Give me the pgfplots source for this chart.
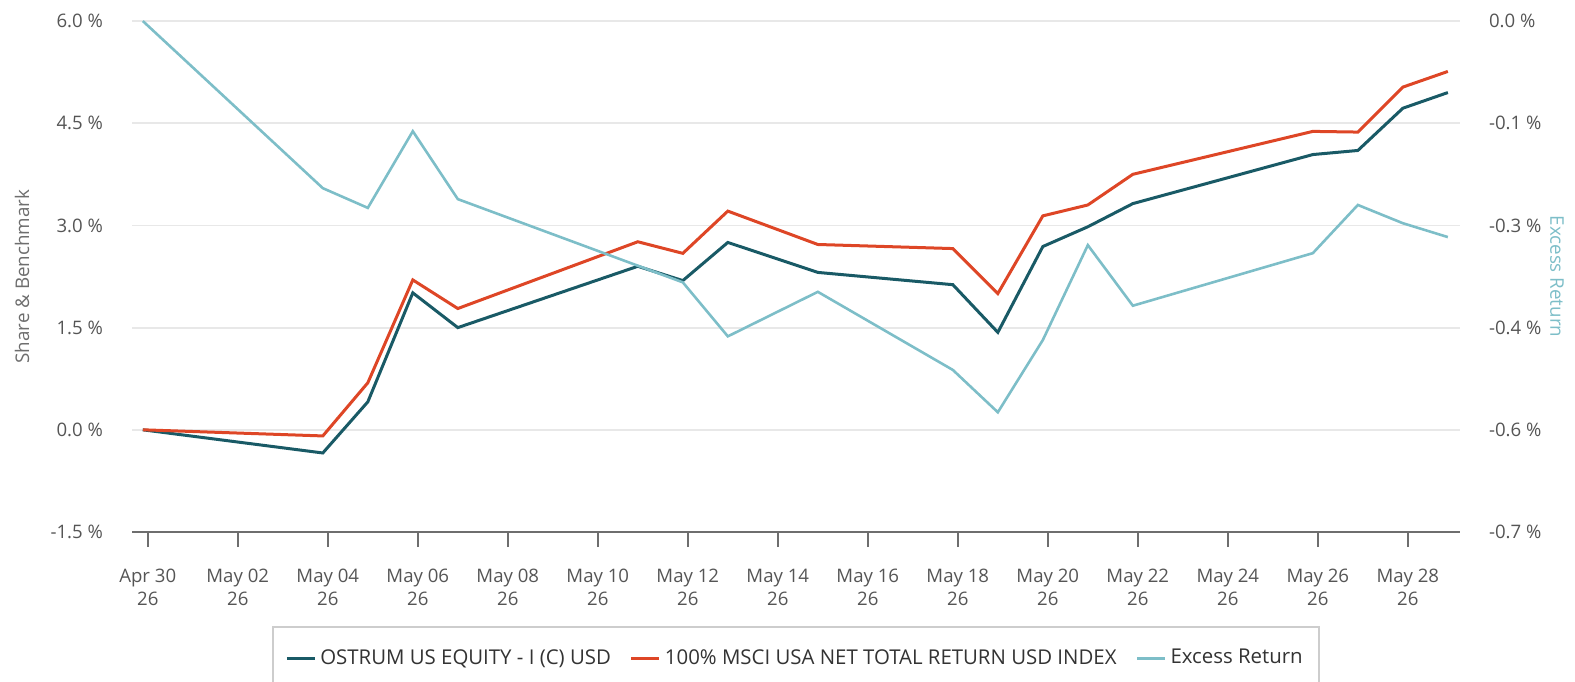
\documentclass[border=0pt]{standalone}
\usepackage{pgfplots}
\pgfplotsset{compat=1.18}
\usepackage{fontspec}
\setmainfont{Open Sans}
\definecolor{ostrum}{RGB}{25,90,102}
\definecolor{msci}{RGB}{222,70,38}
\definecolor{excess}{RGB}{125,190,200}
\definecolor{tickgray}{RGB}{85,85,85}
\definecolor{gridgray}{RGB}{232,232,232}
\definecolor{axisgray}{RGB}{110,110,110}
\begin{document}
\begin{tikzpicture}
\useasboundingbox (0,0) rectangle (787.5pt,340.5pt);
\begin{axis}[
  at={(66pt,74.5pt)}, anchor=south west,
  scale only axis, width=664pt, height=255.5pt,
  xmin=-0.24, xmax=29.27, ymin=-1.5, ymax=6.0,
  axis x line*=bottom, axis y line*=left,
  y axis line style={draw=none},
  x axis line style={draw=axisgray, line width=1pt},
  xtick={0.11,2.11,4.11,6.11,8.11,10.11,12.11,14.11,16.11,18.11,20.11,22.11,24.11,26.11,28.11},
  xticklabels={{Apr 30\\26},{May 02\\26},{May 04\\26},{May 06\\26},{May 08\\26},{May 10\\26},{May 12\\26},{May 14\\26},{May 16\\26},{May 18\\26},{May 20\\26},{May 22\\26},{May 24\\26},{May 26\\26},{May 28\\26}},
  xticklabel style={align=center, font=\fontsize{9.3}{11.5}\selectfont, text=tickgray, yshift=-7.5pt},
  x tick style={draw=axisgray, line width=0.9pt},
  tick align=outside, major tick length=7.5pt,
  ytick={-1.5,0,1.5,3,4.5,6},
  yticklabels={{-1.5 \%},{0.0 \%},{1.5 \%},{3.0 \%},{4.5 \%},{6.0 \%}},
  yticklabel style={font=\fontsize{9.3}{11}\selectfont, text=tickgray, xshift=-3.5pt},
  y tick style={draw=none},
  ymajorgrids, grid style={draw=gridgray, line width=0.9pt},
  ylabel={Share \& Benchmark},
  ylabel style={at={(axis description cs:-0.0828,0.5)}, anchor=center, font=\fontsize{9.4}{11}\selectfont, text=axisgray},
  clip=false,
  legend columns=3,
  legend style={at={(0.5,-0.184)}, anchor=north, draw={rgb,255:red,205;green,205;blue,205}, line width=1.2pt,
    inner xsep=6pt, inner ysep=9pt, font=\fontsize{10.2}{12}\selectfont, text=black!80,
    /tikz/every even column/.append style={column sep=7.5pt}},
  legend image code/.code={\draw[#1, line width=1.5pt] (0pt,0pt) -- (14pt,0pt);},
]
\addplot[ostrum, line width=1.5pt] coordinates {
(0,0.00) (4,-0.34) (5,0.41) (6,2.01) (7,1.50) (11,2.40) (12,2.19) (13,2.75) (15,2.31) (18,2.13) (19,1.43) (20,2.69) (21,2.98) (22,3.32) (26,4.04) (27,4.10) (28,4.72) (29,4.95)};
\addlegendentry{OSTRUM US EQUITY - I (C) USD}
\addplot[msci, line width=1.5pt] coordinates {
(0,0.00) (4,-0.09) (5,0.69) (6,2.20) (7,1.78) (11,2.76) (12,2.59) (13,3.21) (15,2.72) (18,2.66) (19,2.00) (20,3.14) (21,3.30) (22,3.75) (26,4.38) (27,4.37) (28,5.03) (29,5.26)};
\addlegendentry{100\% MSCI USA NET TOTAL RETURN USD INDEX}
\addlegendimage{excess, line width=1.3pt}
\addlegendentry{Excess Return}
\end{axis}
\begin{axis}[
  at={(66pt,74.5pt)}, anchor=south west,
  scale only axis, width=664pt, height=255.5pt,
  xmin=-0.24, xmax=29.27, ymin=-0.7, ymax=0,
  axis x line=none, axis y line*=right,
  y axis line style={draw=none},
  ytick={-0.7,-0.56,-0.42,-0.28,-0.14,0},
  yticklabels={{-0.7 \%},{-0.6 \%},{-0.4 \%},{-0.3 \%},{-0.1 \%},{0.0 \%}},
  yticklabel style={font=\fontsize{9.3}{11}\selectfont, text=tickgray, xshift=11pt},
  y tick style={draw=none},
  ylabel={Excess Return},
  ylabel style={at={(axis description cs:1.073,0.5)}, anchor=center, rotate=180, font=\fontsize{9.4}{11}\selectfont, text=excess},
  clip=false,
]
\addplot[excess, line width=1.3pt] coordinates {
(0,0.000) (4,-0.229) (5,-0.256) (6,-0.151) (7,-0.244) (12,-0.358) (13,-0.432) (15,-0.371) (18,-0.478) (19,-0.536) (20,-0.437) (21,-0.307) (22,-0.390) (26,-0.318) (27,-0.252) (28,-0.277) (29,-0.296)};
\end{axis}
\end{tikzpicture}
\end{document}
